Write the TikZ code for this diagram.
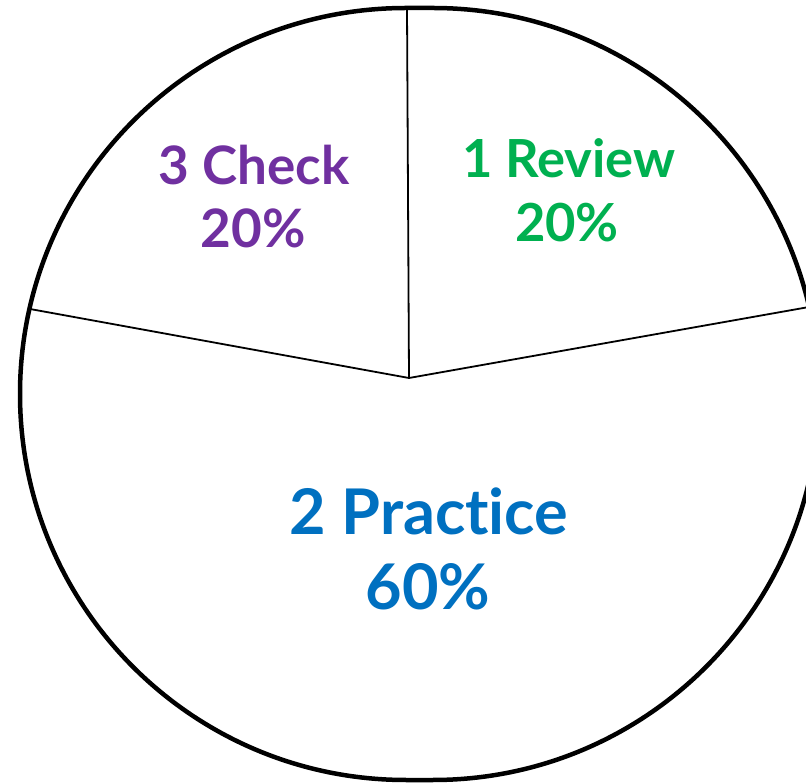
\documentclass[tikz,border=0pt]{standalone}
\usepackage{fontspec}
\setmainfont{Lato}[RawFeature={-liga;-dlig}]
\definecolor{chkpurple}{HTML}{7030A0}
\definecolor{revgreen}{HTML}{00B050}
\definecolor{pracblue}{HTML}{0070C0}
\begin{document}
\begin{tikzpicture}[x=1pt,y=1pt,
  outline/.style={line width=4.5pt},
  spoke/.style={line width=1.8pt},
  lbl/.style={anchor=base,inner sep=0pt,font=\bfseries}]
\useasboundingbox (0,0) rectangle (806,782);
\clip (0,0) rectangle (806,782);
\fill[white] (0,0) rectangle (806,782);
% pie outline
\draw[outline] (406,774) arc[start angle=90,end angle=270,radius=386pt]
  -- (433,2) arc[start angle=-90,end angle=90,radius=386pt] -- cycle;
% spokes
\coordinate (c) at (409,404);
\coordinate (top) at (407,774);
\coordinate (left) at (30,473);
\coordinate (right) at (809,475);
\draw[spoke] (c) -- (top);
\draw[spoke] (c) -- (left);
\draw[spoke] (c) -- (right);
% labels
\node[lbl,text=chkpurple,font=\bfseries\fontsize{53}{60}\selectfont] (chk1) at (254,597) {3 Check};
\node[lbl,text=chkpurple,font=\bfseries\fontsize{53}{60}\selectfont] (chk2) at (253,534) {20\%};
\node[lbl,text=revgreen,font=\bfseries\fontsize{52.5}{60}\selectfont] (rev1) at (569,604) {1 Review};
\node[lbl,text=revgreen,font=\bfseries\fontsize{52.5}{60}\selectfont] (rev2) at (567,540) {20\%};
\node[lbl,text=pracblue,font=\bfseries\fontsize{63}{70}\selectfont] (pr1) at (429,247) {2 Practice};
\node[lbl,text=pracblue,font=\bfseries\fontsize{63}{70}\selectfont] (pr2) at (428,172) {60\%};
\end{tikzpicture}
\end{document}
